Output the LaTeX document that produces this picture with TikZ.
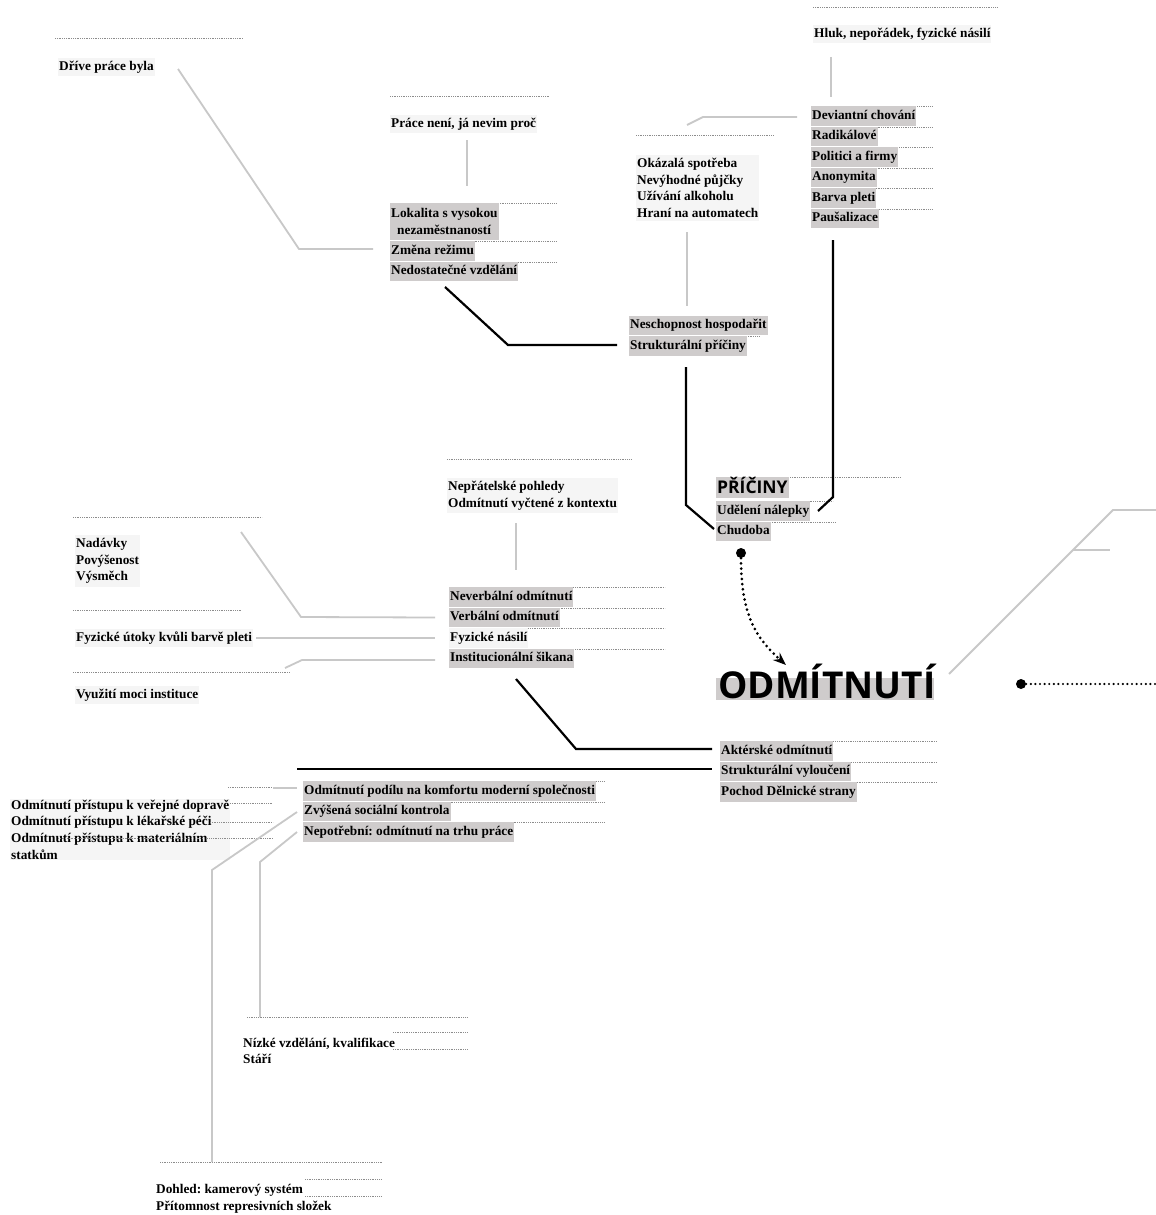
\documentclass[tikz,border=0pt]{standalone}
\usepackage{fontspec}
\setmainfont{Liberation Serif}
\newfontfamily\headsans{Open Sans}
\usetikzlibrary{arrows.meta}
\definecolor{itemgray}{RGB}{207,204,204}
\definecolor{lightbg}{RGB}{245,245,245}
\definecolor{glinec}{RGB}{200,200,200}
\definecolor{dotc}{RGB}{140,140,140}
\frenchspacing
\begin{document}
\begin{tikzpicture}[x=1pt,y=-1pt,
  itm/.style={anchor=west, fill=itemgray, inner xsep=1pt, inner ysep=0pt, text height=10pt, text depth=3.5pt, minimum height=19.5pt, font=\fontsize{13.3}{16}\selectfont\bfseries},
  itmlight/.style={itm, fill=lightbg},
  itmtwo/.style={anchor=west, fill=itemgray, inner xsep=1pt, inner ysep=2pt, align=left, minimum height=37pt, font=\fontsize{13.3}{16.5}\selectfont\bfseries},
  blk/.style={anchor=west, fill=lightbg, inner xsep=1pt, inner ysep=3pt, align=left, font=\fontsize{13.3}{16.7}\selectfont\bfseries},
  sep/.style={draw=dotc, line width=0.6pt, dash pattern=on 0.7pt off 1.1pt},
  gline/.style={draw=glinec, line width=1.8pt},
  bline/.style={draw=black, line width=2.2pt},
  bigdot/.style={circle, fill=black, inner sep=0pt, minimum size=10pt},
  dotline/.style={draw=black, line width=2.4pt, line cap=round, dash pattern=on 0pt off 4.6pt},
  dotarrow/.style={draw=black, line width=3pt, line cap=round, dash pattern=on 0pt off 5.2pt},
]
\useasboundingbox[fill=white] (0,0) rectangle (1156,1215);

% ---------- separators (drawn under the boxes) ----------
\draw[sep] (55,38) -- (243,38);
\draw[sep] (390,96) -- (550,96);
\draw[sep] (390,203.5) -- (557,203.5);
\draw[sep] (390,241.7) -- (557,241.7);
\draw[sep] (390,262.2) -- (557,262.2);
\draw[sep] (636,135) -- (773,135);
\draw[sep] (629,336.7) -- (760,336.7);
\draw[sep] (813,7) -- (998,7);
\foreach \yy in {106.7,127.2,147.7,168.2,188.7,209.2} {\draw[sep] (811,\yy) -- (932,\yy);}
\draw[sep] (718,477) -- (900,477);
\draw[sep] (716,501.7) -- (833,501.7);
\draw[sep] (716,522.2) -- (835,522.2);
\draw[sep] (447,459) -- (632,459);
\foreach \yy in {587.7,608.2,628.7,649.2} {\draw[sep] (449,\yy) -- (665,\yy);}
\draw[sep] (73,517) -- (262,517);
\draw[sep] (73,610) -- (242,610);
\draw[sep] (73,672) -- (290,672);
\foreach \yy in {741.7,762.2,782.7} {\draw[sep] (720,\yy) -- (937,\yy);}
\foreach \yy in {781.7,802.2,822.7} {\draw[sep] (303,\yy) -- (605,\yy);}
\draw[sep] (247,1017) -- (468,1017);
\draw[sep] (393,1032) -- (468,1032);
\draw[sep] (393,1049) -- (468,1049);
\draw[sep] (160,1162) -- (382,1162);
\draw[sep] (305,1179) -- (382,1179);
\draw[sep] (305,1196) -- (382,1196);

% ---------- text nodes ----------
\node[blk] (drive) at (58,67) {Dříve práce byla};
\node[blk] (prace) at (390,124) {Práce není, já nevim proč};
\node[itmtwo] (lokalita) at (390,221.5) {Lokalita s vysokou\\\hspace*{6pt}nezaměstnaností};
\node[itm] (zmena) at (390,251) {Změna režimu};
\node[itm] (nedost) at (390,271.5) {Nedostatečné vzdělání};

\node[blk] (okazala) at (636,188) {Okázalá spotřeba\\Nevýhodné půjčky\\Užívání alkoholu\\Hraní na automatech};
\node[itm] (neschop) at (629,325.5) {Neschopnost hospodařit};
\node[itm] (strukpr) at (629,346) {Strukturální příčiny};

\node[blk] (hluk) at (813,34) {Hluk, nepořádek, fyzické násilí};
\node[itm] (deviant) at (811,116) {Deviantní chování};
\node[itm] (radik) at (811,136.5) {Radikálové};
\node[itm] (politici) at (811,157) {Politici a firmy};
\node[itm] (anonym) at (811,177.5) {Anonymita};
\node[itm] (barva) at (811,198) {Barva pleti};
\node[itm] (pausal) at (811,218.5) {Paušalizace};

\node[anchor=west, fill=itemgray, inner xsep=1pt, inner ysep=0pt, minimum height=21pt, text height=12.5pt, text depth=0pt, font=\headsans\bfseries\fontsize{17.5}{20}\selectfont] (priciny) at (716,487) {PŘÍČINY};
\node[itm] (udeleni) at (716,511) {Udělení nálepky};
\node[itm] (chudoba) at (716,531.5) {Chudoba};

\node[bigdot] (dotA) at (741,553) {};
\fill[itemgray] (716,678) rectangle (934,700);
\node[anchor=base west, inner sep=0pt, font=\headsans\bfseries\fontsize{37}{40}\selectfont] (odm) at (718,698) {ODMÍTNUTÍ};
\coordinate (tipA) at (786,665);

\node[bigdot] (dotB) at (1021,684) {};

\node[blk] (neprat) at (447,495.5) {Nepřátelské pohledy\\Odmítnutí vyčtené z kontextu};
\node[itm] (neverb) at (449,597) {Neverbální odmítnutí};
\node[itm] (verb) at (449,617.5) {Verbální odmítnutí};
\node[itmlight] (fyzn) at (449,638) {Fyzické násilí};
\node[itm] (instit) at (449,658.5) {Institucionální šikana};

\node[blk] (nadavky) at (75,561) {Nadávky\\Povýšenost\\Výsměch};
\node[blk] (utoky) at (75,638) {Fyzické útoky kvůli barvě pleti};
\node[blk] (vyuziti) at (75,695) {Využití moci instituce};

\node[itm] (akter) at (720,751) {Aktérské odmítnutí};
\node[itm] (strukvyl) at (720,771.5) {Strukturální vyloučení};
\node[itm] (pochod) at (720,792) {Pochod Dělnické strany};

\node[itm] (podil) at (303,791) {Odmítnutí podílu na komfortu moderní společnosti};
\node[itm] (kontrola) at (303,811.5) {Zvýšená sociální kontrola};
\node[itm] (nepotr) at (303,832) {Nepotřební: odmítnutí na trhu práce};

\node[blk, inner ysep=1pt] (pristup) at (10,829.5) {Odmítnutí přístupu k veřejné dopravě\\Odmítnutí přístupu k lékařské péči\\Odmítnutí přístupu k materiálním\\statkům};
\draw[sep] (228,787) -- (273,787);
\draw[sep] (230,803) -- (273,803);
\draw[sep] (210,822) -- (273,822);
\draw[sep] (58,838) -- (273,838);

\node[blk, fill=none] (nizke) at (242,1051) {Nízké vzdělání, kvalifikace\\Stáří};
\node[blk, fill=none] (dohled) at (155,1198.5) {Dohled: kamerový systém\\Přítomnost represivních složek};

% ---------- grey connectors ----------
\draw[gline] (178,69) -- (299,249) -- ([xshift=-17pt]zmena.west |- 0,249);
\draw[gline] (467,140) -- (467,186);
\draw[gline] (687,125) -- (703,117) -- (797,117);
\draw[gline] (687,232) -- (687,306);
\draw[gline] (831,57) -- (831,97);
\draw[gline] (516,523) -- (516,570);
\draw[gline] (241,532) -- (301,617) -- ([xshift=-14pt]verb.west);
\draw[gline] (256,638) -- ([xshift=-14pt]fyzn.west);
\draw[gline] (285,668) -- (302,660) -- (435,660);
\draw[gline] (273,788) -- (297,788);
\draw[gline] (297,812) -- (212,870) -- (212,1162);
\draw[gline] (297,832) -- (260,862) -- (260,1017);
\draw[gline] (949,674) -- (1113,510) -- (1156,510);
\draw[gline] (1073,550) -- (1110,550);

% ---------- black connectors ----------
\draw[bline] (445,287) -- (508,345) -- ([xshift=-12pt]strukpr.west |- 0,345);
\draw[bline] (686,367) -- (686,505) -- (714,529);
\draw[bline] (833,240) -- (833,497) -- (818,511);
\draw[bline] (516,679) -- (576,749) -- ([xshift=-8pt]akter.west |- 0,749);
\draw[bline] (297,769) -- ([xshift=-8pt]strukvyl.west |- 0,769);

% ---------- dotted arrows ----------
\draw[dotarrow, -{Stealth[length=13pt,width=10pt]}] (dotA.south) .. controls (741,615) and (756,638) .. (tipA);
\draw[dotline] (dotB.east) -- (1156,684);
\end{tikzpicture}
\end{document}
